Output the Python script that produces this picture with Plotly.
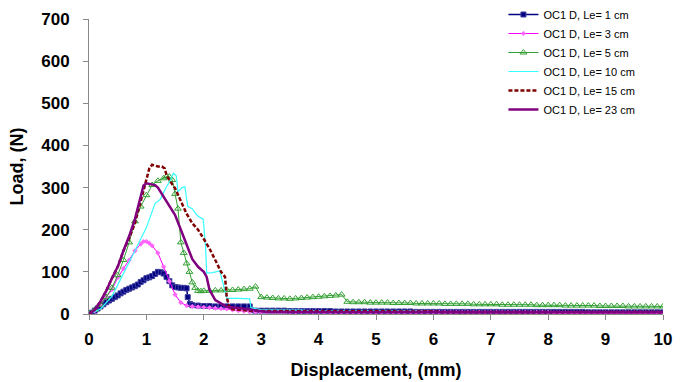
import plotly.graph_objects as go

# ---------------- data ----------------
tail_x = [3.1, 3.2, 3.3, 3.4, 3.5, 3.6, 3.7, 3.8, 3.9, 4.0,
          4.1, 4.2, 4.3, 4.4, 4.5, 4.6, 4.7, 4.8, 4.9, 5.0,
          5.1, 5.2, 5.3, 5.4, 5.5, 5.6, 5.7, 5.8, 5.9, 6.0,
          6.1, 6.2, 6.3, 6.4, 6.5, 6.6, 6.7, 6.8, 6.9, 7.0,
          7.1, 7.2, 7.3, 7.4, 7.5, 7.6, 7.7, 7.8, 7.9, 8.0,
          8.1, 8.2, 8.3, 8.4, 8.5, 8.6, 8.7, 8.8, 8.9, 9.0,
          9.1, 9.2, 9.3, 9.4, 9.5, 9.6, 9.7, 9.8, 9.9, 10.0]

# Le = 1 cm
le1_x = [0, 0.05, 0.1, 0.15, 0.2, 0.25, 0.3, 0.35, 0.4, 0.45, 0.5, 0.55, 0.6, 0.65, 0.7, 0.75,
         0.8, 0.85, 0.9, 0.95, 1.0, 1.05, 1.1, 1.15, 1.2, 1.25, 1.3, 1.35, 1.4, 1.45, 1.5,
         1.55, 1.6, 1.65, 1.7, 1.72, 1.76, 1.8, 1.9, 2.0, 2.1, 2.2, 2.3, 2.4, 2.5, 2.6, 2.7,
         2.8, 2.82, 2.9, 3.0]
le1_y = [0, 3, 8, 13, 18, 23, 28, 32, 36, 40, 44, 49, 53, 57, 60, 63,
         66, 70, 76, 80, 85, 87, 90, 95, 100, 99, 96, 88, 78, 68, 64,
         63, 62, 62, 61, 40, 24, 21, 20, 19, 19, 18, 18, 18, 18, 18, 18,
         18, 9, 8, 8]
le1_tail = [8, 8, 8, 8, 7, 7, 7, 7, 7, 7, 7, 7, 6, 6, 6, 6, 6, 6, 6, 6,
            6, 6, 6, 6, 6, 6, 5, 5, 5, 5, 5, 5, 5, 5, 5, 5, 5, 5, 5, 5,
            5, 5, 5, 5, 5, 5, 5, 5, 5, 5, 5, 5, 5, 5, 5, 5, 4, 4, 4, 4,
            4, 4, 4, 4, 4, 4, 4, 4, 4, 4]

# Le = 3 cm
le3_x = [0, 0.1, 0.2, 0.3, 0.4, 0.5, 0.6, 0.7, 0.8, 0.9, 0.95, 1.0, 1.05, 1.1, 1.2, 1.3,
         1.4, 1.5, 1.6, 1.7, 1.8, 1.9, 2.0, 2.1, 2.2, 2.3, 2.4, 2.5, 2.6, 2.7, 2.8, 2.9, 3.0]
le3_y = [0, 8, 22, 40, 58, 86, 108, 128, 150, 166, 172, 172, 168, 162, 145, 112,
         78, 46, 27, 20, 18, 17, 16, 15, 14, 13, 12, 10, 8, 7, 6, 5, 5]
le3_tail = [5, 5, 5, 5, 5, 5, 5, 5, 5, 5, 4, 4, 4, 4, 4, 4, 4, 4, 4, 4,
            4, 4, 4, 4, 4, 4, 4, 4, 4, 4, 4, 4, 4, 4, 4, 4, 4, 4, 4, 4,
            4, 4, 4, 4, 4, 4, 4, 4, 4, 4, 3, 3, 3, 3, 3, 3, 3, 3, 3, 3,
            3, 3, 3, 3, 3, 3, 3, 3, 3, 3]

# Le = 5 cm
le5_x = [0, 0.1, 0.2, 0.3, 0.4, 0.5, 0.6, 0.7, 0.8, 0.9, 1.0, 1.1, 1.2, 1.3, 1.35, 1.4,
         1.45, 1.5, 1.55, 1.6, 1.65, 1.7, 1.75, 1.8, 1.85, 1.9, 1.95, 2.0, 2.1, 2.2, 2.3,
         2.4, 2.5, 2.6, 2.7, 2.8, 2.9, 3.0]
le5_y = [0, 10, 22, 40, 62, 92, 128, 170, 220, 255, 282, 306, 316, 322, 326, 326,
         318, 285, 250, 170, 145, 120, 100, 75, 62, 55, 54, 55, 55, 56, 56,
         57, 57, 58, 59, 60, 65, 40]
le5_tail = [39, 38, 37, 37, 36, 37, 38, 39, 40, 41, 42, 43, 44, 46, 29, 28, 28, 28, 27, 27,
            27, 27, 26, 26, 26, 26, 25, 25, 25, 25, 25, 24, 24, 24, 24, 24, 23, 23, 23, 23,
            23, 22, 22, 22, 22, 22, 22, 21, 21, 21, 21, 21, 20, 20, 20, 20, 20, 20, 19, 19,
            19, 19, 19, 18, 18, 18, 18, 18, 18, 18]

# Le = 10 cm
le10_x = [0, 0.2, 0.4, 0.6, 0.8, 1.0, 1.15, 1.24, 1.3, 1.35, 1.42, 1.47, 1.52, 1.55, 1.62,
          1.67, 1.72, 1.8, 1.85, 1.9, 1.99, 2.03, 2.05, 2.15, 2.28, 2.32, 2.36, 2.4, 2.6,
          2.8, 2.82, 2.9, 3.0]
le10_y = [0, 12, 42, 98, 150, 205, 262, 272, 290, 302, 318, 334, 328, 290, 300,
          302, 255, 250, 240, 232, 225, 160, 97, 98, 102, 80, 60, 37, 37,
          36, 15, 12, 10]
le10_tail = [10, 10, 9, 9, 9, 9, 9, 8, 8, 8, 8, 8, 8, 8, 8, 8, 7, 7, 7, 7,
             7, 7, 7, 7, 7, 7, 7, 6, 6, 6, 6, 6, 6, 6, 6, 6, 6, 6, 6, 6,
             6, 6, 6, 6, 6, 5, 5, 5, 5, 5, 5, 5, 5, 5, 5, 5, 5, 5, 5, 5,
             5, 5, 5, 5, 5, 5, 5, 5, 5, 5]

# Le = 15 cm
le15_x = [0, 0.1, 0.2, 0.3, 0.4, 0.5, 0.6, 0.7, 0.8, 0.9, 1.0, 1.05, 1.1, 1.2, 1.27, 1.32,
          1.35, 1.4, 1.5, 1.6, 1.7, 1.8, 1.9, 2.0, 2.1, 2.2, 2.3, 2.37, 2.4, 2.45, 2.6,
          2.8, 3.0]
le15_y = [0, 10, 30, 55, 85, 112, 150, 180, 215, 265, 320, 345, 354, 350, 350, 345,
          330, 318, 298, 268, 238, 215, 200, 178, 155, 128, 100, 88, 40, 12, 10,
          8, 7]
le15_tail = [7, 7, 7, 7, 7, 7, 6, 6, 6, 6, 6, 6, 6, 6, 6, 6, 6, 6, 6, 6,
             6, 6, 6, 6, 6, 6, 6, 6, 6, 6, 5, 5, 5, 5, 5, 5, 5, 5, 5, 5,
             5, 5, 5, 5, 5, 5, 5, 5, 5, 5, 5, 5, 5, 5, 5, 5, 5, 5, 5, 5,
             5, 5, 5, 5, 5, 5, 5, 5, 5, 5]

# Le = 23 cm
le23_x = [0, 0.1, 0.2, 0.3, 0.4, 0.5, 0.6, 0.7, 0.8, 0.9, 0.95, 1.0, 1.1, 1.15, 1.2, 1.3,
          1.4, 1.5, 1.6, 1.7, 1.8, 1.9, 2.0, 2.05, 2.1, 2.2, 2.3, 2.4, 2.6, 2.8, 3.0]
le23_y = [0, 10, 30, 55, 85, 112, 150, 185, 225, 275, 305, 310, 308, 306, 300, 278,
          258, 235, 200, 165, 130, 112, 100, 88, 57, 33, 25, 17, 14, 10, 6]
le23_tail = [5, 5, 5, 5, 5, 5, 5, 5, 5, 5, 4, 4, 4, 4, 4, 4, 4, 4, 4, 4,
             4, 4, 4, 4, 4, 4, 4, 4, 4, 4, 4, 4, 4, 4, 4, 4, 4, 4, 4, 4,
             4, 4, 4, 4, 4, 4, 4, 4, 4, 4, 4, 4, 4, 4, 4, 4, 4, 4, 4, 4,
             4, 4, 4, 4, 4, 4, 4, 4, 4, 4]

names = ["OC1 D, Le= 1 cm", "OC1 D, Le= 3 cm", "OC1 D, Le= 5 cm",
         "OC1 D, Le= 10 cm", "OC1 D, Le= 15 cm", "OC1 D, Le= 23 cm"]

x_ticks = [0, 1, 2, 3, 4, 5, 6, 7, 8, 9, 10]
y_ticks = [0, 100, 200, 300, 400, 500, 600, 700]

# ---------------- figure ----------------
FONT = "Arial, 'Liberation Sans', sans-serif"
fig = go.Figure()

fig.add_trace(go.Scatter(
    x=le1_x + tail_x, y=le1_y + le1_tail, name=names[0], mode="lines+markers",
    line=dict(color="#000080", width=1.5),
    marker=dict(symbol="square", size=5, color="#000080",
                line=dict(color="#4040a0", width=1))))
fig.add_trace(go.Scatter(
    x=le3_x + tail_x, y=le3_y + le3_tail, name=names[1], mode="lines+markers",
    line=dict(color="#ff00ff", width=1),
    marker=dict(symbol="diamond", size=4, color="#ff66ff")))
fig.add_trace(go.Scatter(
    x=le5_x + tail_x, y=le5_y + le5_tail, name=names[2], mode="lines+markers",
    line=dict(color="#33a033", width=1),
    marker=dict(symbol="triangle-up-open", size=6, color="#33a033",
                line=dict(width=1))))
fig.add_trace(go.Scatter(
    x=le10_x + tail_x, y=le10_y + le10_tail, name=names[3], mode="lines",
    line=dict(color="#33ffff", width=1.2)))
fig.add_trace(go.Scatter(
    x=le15_x + tail_x, y=le15_y + le15_tail, name=names[4], mode="lines",
    line=dict(color="#800000", width=2.5, dash="4px,2px")))
fig.add_trace(go.Scatter(
    x=le23_x + tail_x, y=le23_y + le23_tail, name=names[5], mode="lines",
    line=dict(color="#800080", width=2.5)))

fig.update_layout(
    width=684, height=382,
    margin=dict(l=89, r=21, t=19, b=68, autoexpand=False),
    paper_bgcolor="white", plot_bgcolor="white",
    font=dict(family=FONT, color="black"),
    showlegend=True,
    legend=dict(x=0.722, y=1.0, xanchor="left", yanchor="top", yref="container",
                bgcolor="rgba(255,255,255,0)", borderwidth=0,
                font=dict(size=11, family=FONT, color="black"),
                tracegroupgap=0, itemwidth=30),
)
fig.update_xaxes(
    range=[0, 10], tickvals=x_ticks, ticktext=[str(v) for v in x_ticks],
    showgrid=False, zeroline=False, showline=True, linecolor="#888888", linewidth=1,
    ticks="outside", ticklen=5, tickcolor="#888888",
    tickfont=dict(size=17, family=FONT, color="black", weight="bold"),
    ticklabelstandoff=5,
    automargin=False,
    title=dict(text="Displacement, (mm)", standoff=14,
               font=dict(size=18, family=FONT, color="black", weight="bold")))
fig.update_yaxes(
    range=[0, 700], tickvals=y_ticks, ticktext=[str(v) for v in y_ticks],
    showgrid=False, zeroline=False, showline=True, linecolor="#888888", linewidth=1,
    ticks="outside", ticklen=5, tickcolor="#888888",
    tickfont=dict(size=17, family=FONT, color="black", weight="bold"),
    ticklabelstandoff=10,
    automargin=False,
    title=dict(text="Load, (N)", standoff=12,
               font=dict(size=18, family=FONT, color="black", weight="bold")))

fig.write_html("out.html")
